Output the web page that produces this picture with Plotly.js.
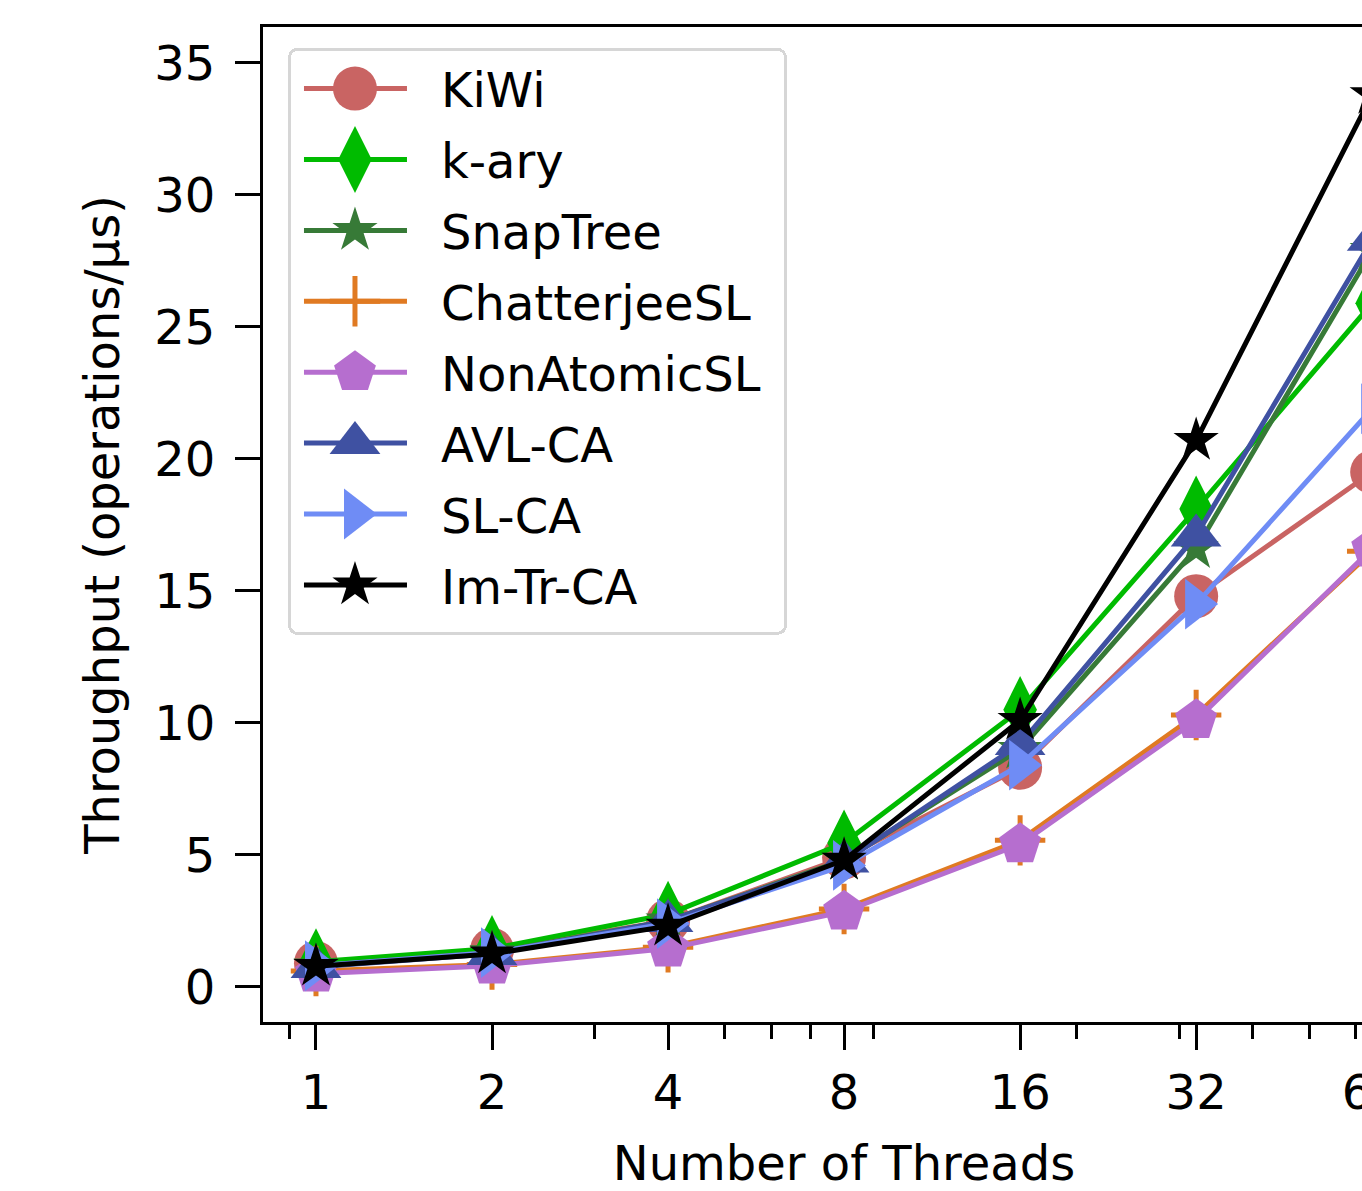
<!DOCTYPE html>
<html>
<head>
<meta charset="utf-8">
<script src="https://cdn.plot.ly/plotly-3.0.1.min.js"></script>
<style>
html,body{margin:0;padding:0;overflow:hidden;background:#fff;}
#chart{width:1500px;height:1191px;}
</style>
</head>
<body>
<div id="chart"></div>
<script>
// ---- data ----
const threads = [1, 2, 4, 8, 16, 32, 64];
const threadTickText = ['1', '2', '4', '8', '16', '32', '64'];
const minorTickVals = [0.9, 3, 5, 6, 7, 9, 20, 30, 40, 50, 60];
const yTickVals = [0, 5, 10, 15, 20, 25, 30, 35];

const seriesNames = ['KiWi', 'k-ary', 'SnapTree', 'ChatterjeeSL', 'NonAtomicSL', 'AVL-CA', 'SL-CA', 'Im-Tr-CA'];
const kiwi        = [0.9, 1.4, 2.5, 4.9, 8.3, 14.8, 19.5];
const kary        = [0.95, 1.45, 2.75, 5.45, 10.5, 18.1, 25.9];
const snapTree    = [0.8, 1.3, 2.5, 4.8, 9.0, 16.6, 27.9];
const chatterjee  = [0.6, 0.85, 1.5, 2.95, 5.55, 10.3, 16.5];
const nonAtomic   = [0.5, 0.8, 1.45, 2.85, 5.4, 10.1, 16.6];
const avlCA       = [0.75, 1.25, 2.5, 4.75, 9.2, 17.1, 28.3];
const slCA        = [0.8, 1.3, 2.4, 4.6, 8.4, 14.5, 21.9];
const imTrCA      = [0.78, 1.25, 2.3, 4.8, 10.1, 20.7, 33.8];

// ---- styles ----
const seriesValues = [kiwi, kary, snapTree, chatterjee, nonAtomic, avlCA, slCA, imTrCA];
const colors  = ['#c96463', '#00bb00', '#377a37', '#e07a22', '#b66ecf', '#3f51a2', '#6f8cf5', '#000000'];
const symbols = ['circle', 'diamond-tall', 'star', 'cross-thin', 'pentagon', 'triangle-up', 'triangle-right', 'star'];
const sizes   = [44, 48, 34, 36, 44, 44, 44, 34];

const FONT = 'DejaVu Sans, Liberation Sans, sans-serif';

const traces = seriesNames.map((name, i) => ({
  type: 'scatter',
  mode: 'lines+markers',
  name: name,
  legendgroup: 'g' + i,
  x: threads,
  y: seriesValues[i],
  line: {color: colors[i], width: 5},
  marker: {
    symbol: symbols[i],
    size: sizes[i],
    color: colors[i],
    line: symbols[i] === 'cross-thin' ? {color: colors[i], width: 5} : {width: 0}
  }
}));

const layout = {
  width: 1500,
  height: 1191,
  margin: {l: 263, r: 75, t: 27, b: 169},
  paper_bgcolor: '#ffffff',
  plot_bgcolor: '#ffffff',
  font: {family: FONT, size: 48, color: '#000'},
  showlegend: true,
  legend: {
    x: 0.0215, y: 0.979, xanchor: 'left', yanchor: 'top',
    bgcolor: 'rgba(255,255,255,0.85)',
    bordercolor: '#d6d6d6', borderwidth: 3,
    font: {family: FONT, size: 48, color: '#000'},
    itemwidth: 140,
    tracegroupgap: 5.5
  },
  xaxis: {
    type: 'log',
    range: [-0.0906, 1.8965],
    tickmode: 'array',
    tickvals: threads,
    ticktext: threadTickText,
    ticks: 'outside', ticklen: 25, tickwidth: 3, tickcolor: '#000',
    ticklabelstandoff: 1,
    minor: {tickmode: 'array', tickvals: minorTickVals, ticks: 'outside', ticklen: 14, tickwidth: 3, tickcolor: '#000', showgrid: false},
    showline: true, linecolor: '#000', linewidth: 3, mirror: true,
    showgrid: false, zeroline: false,
    tickfont: {family: FONT, size: 48, color: '#000'},
    title: {text: 'Number of Threads', font: {family: FONT, size: 48, color: '#000'}, standoff: 33}
  },
  yaxis: {
    range: [-1.33, 36.36],
    tickmode: 'array',
    tickvals: yTickVals,
    ticks: 'outside', ticklen: 25, tickwidth: 3, tickcolor: '#000',
    ticklabelstandoff: 10,
    showline: true, linecolor: '#000', linewidth: 3, mirror: true,
    showgrid: false, zeroline: false,
    tickfont: {family: FONT, size: 48, color: '#000'},
    title: {text: 'Throughput (operations/µs)', font: {family: FONT, size: 48, color: '#000'}, standoff: 20}
  }
};

Plotly.newPlot('chart', traces, layout, {staticPlot: true, displayModeBar: false}).then(gd => {
  // legend symbols: longer sample line, marker centred on it, marker at plotted size
  const groups = gd.querySelectorAll('.legend .traces');
  groups.forEach((g, i) => {
    const k = sizes[i] / 16;
    g.querySelectorAll('.legendlines path').forEach(p => {
      p.setAttribute('d', 'M13,0h103');
    });
    g.querySelectorAll('.legendpoints path.scatterpts').forEach(p => {
      p.setAttribute('transform', 'translate(64,0) scale(' + k + ')');
      p.style.vectorEffect = 'non-scaling-stroke';
    });
  });
  // legend frame: slightly larger box with rounded corners, as in the reference
  const bg = gd.querySelector('.legend rect.bg');
  if (bg) {
    const w = parseFloat(bg.getAttribute('width'));
    const h = parseFloat(bg.getAttribute('height'));
    bg.setAttribute('width', w + 18);
    bg.setAttribute('height', h + 9);
    bg.setAttribute('rx', 8);
    bg.setAttribute('ry', 8);
  }
});
</script>
</body>
</html>
